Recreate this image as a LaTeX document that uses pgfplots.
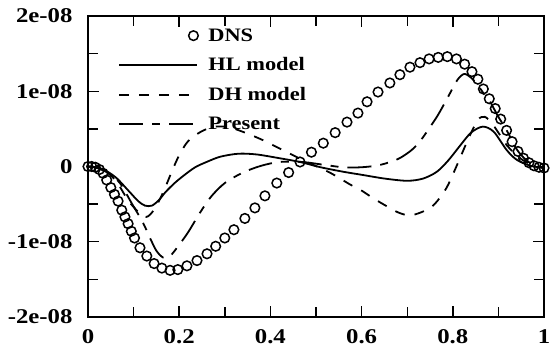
\documentclass[border=0pt]{standalone}
\usepackage{fontspec}
\setmainfont{Liberation Serif}[FakeStretch=1.18]
\usepackage{pgfplots}
\pgfplotsset{compat=1.18}
\pgfplotsset{dnslegend/.style={legend image code/.code={\path[draw=none] (0bp,0bp) -- (78bp,0bp); \draw[##1] plot coordinates {(74bp,0bp)};}}}
\begin{document}
\begin{tikzpicture}[font=\fontsize{19bp}{22bp}\selectfont\bfseries]
\useasboundingbox (-88bp,-34bp) rectangle (462bp,317bp);
\begin{axis}[
  scale only axis, width=456bp, height=301bp,
  xmin=0, xmax=1, ymin=-20, ymax=20,
  xtick={0,0.2,0.4,0.6,0.8,1}, xticklabels={0,0.2,0.4,0.6,0.8,1},
  minor xtick={0.1,0.3,0.5,0.7,0.9},
  ytick={-20,-10,0,10,20}, yticklabels={-2e-08,-1e-08,0,1e-08,2e-08},
  minor ytick={-15,-5,5,15},
  tick align=inside, major tick length=11bp, minor tick length=10bp,
  axis line style={line width=1.8bp},
  every tick/.style={line width=1.4bp, black},
  /pgf/number format/assume math mode=true,
  tick label style={font=\fontsize{21bp}{24bp}\selectfont\bfseries},
  yticklabel style={xshift=-12bp},
  xticklabel style={yshift=-9bp},
  legend style={at={(0.06,0.972)}, anchor=north west, draw=none, fill=none,
    row sep=11bp, /tikz/every odd column/.append style={column sep=8bp}},
  legend cell align=left,
  legend image code/.code={\draw[#1] (0bp,0bp) -- (78bp,0bp);},
]
\addplot[only marks, mark=o, mark size=4.8bp, mark options={line width=1.5bp, black}, dnslegend]
coordinates {
(0.000,0.0)(0.008,0.0)(0.016,-0.1)(0.025,-0.4)(0.033,-0.9)(0.041,-1.8)(0.050,-2.8)
(0.058,-3.7)(0.066,-4.6)(0.074,-5.8)(0.081,-6.7)(0.088,-7.6)(0.095,-8.6)(0.102,-9.5)
(0.114,-10.8)(0.129,-11.9)(0.145,-12.9)(0.162,-13.5)(0.180,-13.8)(0.197,-13.7)
(0.217,-13.2)(0.239,-12.5)(0.261,-11.6)(0.280,-10.6)(0.300,-9.5)(0.320,-8.4)
(0.344,-6.9)(0.366,-5.5)(0.388,-3.9)(0.414,-2.2)(0.440,-0.8)(0.465,0.6)(0.490,1.9)
(0.516,3.1)(0.542,4.5)(0.568,5.9)(0.592,7.1)(0.612,8.6)(0.636,9.9)(0.662,11.1)
(0.684,12.2)(0.706,13.2)(0.728,13.8)(0.748,14.3)(0.768,14.5)(0.788,14.6)(0.808,14.3)
(0.826,13.6)(0.842,12.6)(0.855,11.6)(0.867,10.3)(0.880,9.0)(0.893,7.7)(0.905,6.3)
(0.918,4.8)(0.930,3.3)(0.943,2.0)(0.955,1.1)(0.967,0.5)(0.978,0.1)(0.989,-0.1)(1.000,-0.2)
};
\addlegendentry{DNS}
\addplot[smooth, black, line width=1.8bp] coordinates {
(0,0)(0.03,-0.3)(0.06,-1.4)(0.09,-3.3)(0.11,-4.6)(0.125,-5.2)(0.14,-5.2)(0.155,-4.5)
(0.17,-3.4)(0.19,-2.2)(0.21,-1.2)(0.235,-0.1)(0.26,0.6)(0.29,1.3)(0.33,1.7)(0.37,1.6)
(0.42,1.1)(0.465,0.6)(0.51,-0.1)(0.56,-0.7)(0.6,-1.1)(0.65,-1.6)(0.7,-1.9)(0.735,-1.6)
(0.765,-0.7)(0.79,0.8)(0.815,2.7)(0.84,4.5)(0.866,5.3)(0.89,4.6)(0.918,2.2)(0.94,0.9)
(0.97,0.1)(1,-0.2)
};
\addlegendentry{HL model}
\addplot[smooth, black, line width=1.8bp, dash pattern=on 10bp off 10bp] coordinates {
(0,0)(0.03,-0.3)(0.06,-1.8)(0.088,-4.5)(0.11,-6.0)(0.128,-6.7)(0.143,-5.9)(0.158,-4.3)
(0.17,-2.7)(0.185,-0.5)(0.2,1.5)(0.22,3.4)(0.25,4.7)(0.28,5.3)(0.31,5.2)(0.34,4.6)
(0.38,3.6)(0.43,2.1)(0.48,0.6)(0.53,-0.8)(0.575,-2.4)(0.6,-3.2)(0.625,-4.2)(0.65,-5.1)
(0.68,-6.1)(0.705,-6.5)(0.73,-6.1)(0.755,-5.3)(0.776,-3.8)(0.79,-2.4)(0.81,0.3)
(0.835,3.8)(0.855,6.2)(0.87,6.6)(0.885,5.8)(0.9,4.5)(0.92,2.7)(0.95,1.0)(0.975,0.2)(1,-0.2)
};
\addlegendentry{DH model}
\addplot[smooth, black, line width=1.8bp, dash pattern=on 24bp off 9bp on 8bp off 9bp] coordinates {
(0,0)(0.02,-0.2)(0.045,-0.9)(0.07,-2.2)(0.095,-4.8)(0.12,-7.4)(0.136,-9.5)(0.15,-11.2)
(0.165,-12.1)(0.18,-11.9)(0.2,-10.4)(0.22,-8.7)(0.245,-6.2)(0.27,-4.0)(0.3,-2.2)
(0.34,-0.8)(0.38,0.1)(0.42,0.6)(0.47,0.6)(0.52,0.2)(0.56,-0.1)(0.6,-0.1)(0.64,0.2)
(0.68,1.0)(0.71,2.2)(0.73,3.5)(0.765,6.6)(0.79,9.3)(0.81,11.5)(0.825,12.3)(0.84,11.8)
(0.855,10.8)(0.87,9.5)(0.88,8.8)(0.9,6.6)(0.92,4.6)(0.94,2.3)(0.96,0.9)(0.98,0.1)(1,-0.2)
};
\addlegendentry{Present}
\end{axis}
\end{tikzpicture}
\end{document}
